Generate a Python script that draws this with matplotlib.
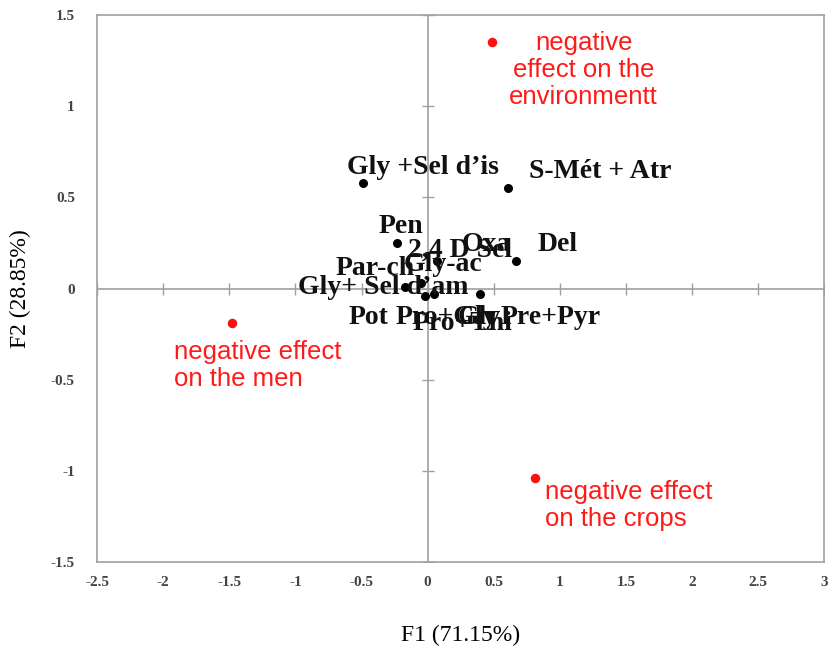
#!/usr/bin/env python
# -*- coding: utf-8 -*-

"""
PCA biplot of pesticide treatments against their negative effects.
"""

import matplotlib.pyplot as plt

# treatments (black points)
treat_x = [-0.49, 0.61, -0.23, 0.67, 0.07, -0.17, -0.05, -0.02, 0.05, 0.40]
treat_y = [0.58, 0.55, 0.25, 0.15, 0.15, 0.01, 0.03, -0.04, -0.03, -0.03]

# treatment labels and their anchor (data coords)
label_text = ["Gly +Sel d\u2019is", "S-M\u00e9t + Atr", "Pen", "Oxa", "Del",
              "2,4 D Sel", "Gly-ac", "Par-ch", "Gly+ Sel d\u2019am",
              "Pot", "Pro+Gly", "Pro+Thi", "Gly", "Pre+Pyr"]
label_x = [-0.61, 0.77, -0.37, 0.26, 0.83, -0.15, -0.18, -0.70, -0.98,
           -0.60, -0.24, -0.11, 0.23, 0.55]
label_y = [0.665, 0.64, 0.34, 0.24, 0.24, 0.21, 0.13, 0.11, 0.005,
           -0.16, -0.16, -0.19, -0.16, -0.16]

# effects (red points)
effect_x = [0.49, -1.48, 0.81]
effect_y = [1.35, -0.19, -1.04]
effect_text = ["negative\neffect on the\nenvironmentt",
               "negative effect\non the men",
               "negative effect\non the crops"]
effect_tx = [1.18, -1.92, 0.89]
effect_ty = [1.20, -0.42, -1.19]
effect_ha = ["center", "left", "left"]

xticks = [-2.5, -2, -1.5, -1, -0.5, 0, 0.5, 1, 1.5, 2, 2.5, 3]
yticks = [-1.5, -1, -0.5, 0, 0.5, 1, 1.5]


def fmt(v):
    return ("%g" % v)


def main():
    fig = plt.figure(figsize=(8.3, 6.53), dpi=100)
    ax = fig.add_axes([0.117, 0.139, 0.876, 0.838])

    ax.set_xlim(-2.5, 3)
    ax.set_ylim(-1.5, 1.5)

    gray = "#a0a0a0"
    for s in ax.spines.values():
        s.set_color(gray)
        s.set_linewidth(1.2)

    # zero lines with small tick marks
    ax.axhline(0, color=gray, lw=1.2, zorder=1)
    ax.axvline(0, color=gray, lw=1.2, zorder=1)
    ax.plot(xticks, [0] * len(xticks), ls="none", marker="|",
            ms=9, color=gray, zorder=1)
    ax.plot([0] * len(yticks), yticks, ls="none", marker="_",
            ms=9, color=gray, zorder=1)

    ax.set_xticks(xticks)
    ax.set_yticks(yticks)
    ax.set_xticklabels([fmt(v) for v in xticks])
    ax.set_yticklabels([fmt(v) for v in yticks])
    ax.tick_params(length=0, labelsize=11, labelcolor="#444444")
    for t in ax.get_xticklabels() + ax.get_yticklabels():
        t.set_fontfamily("Liberation Serif")
        t.set_fontweight("bold")
    ax.tick_params(axis="x", pad=10)
    ax.tick_params(axis="y", pad=16)

    ax.set_xlabel("F1 (71.15%)", family="Liberation Serif", fontsize=17,
                  labelpad=26)
    ax.set_ylabel("F2 (28.85%)", family="Liberation Serif", fontsize=17,
                  labelpad=14)

    ax.scatter(treat_x, treat_y, s=30, color="black", zorder=3)
    for t, x, y in zip(label_text, label_x, label_y):
        ax.text(x, y, t, family="Liberation Serif", fontweight="bold",
                fontsize=20, color="#111111", va="center", ha="left",
                zorder=4)

    ax.scatter(effect_x, effect_y, s=34, color="#ff1010", zorder=3)
    for t, x, y, ha in zip(effect_text, effect_tx, effect_ty, effect_ha):
        ax.text(x, y, t, family="Liberation Sans", fontsize=18.5,
                color="#ff1a1a", va="center", ha=ha,
                linespacing=1.15, zorder=4)

    plt.savefig("out.png")


if __name__ == "__main__":
    main()
